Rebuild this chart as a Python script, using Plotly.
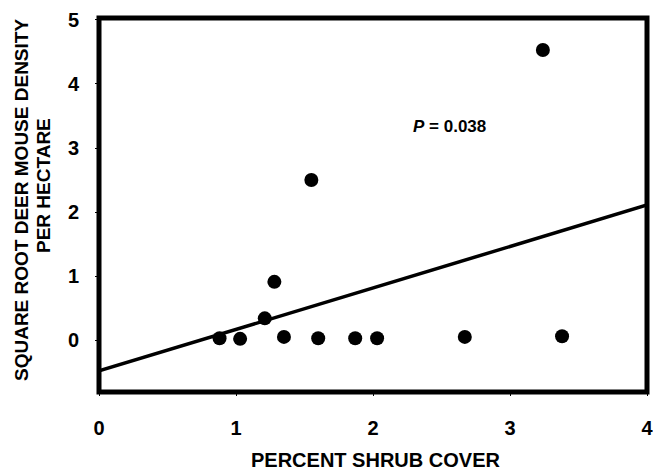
import plotly.graph_objects as go

shrub_cover = [0.88, 1.03, 1.21, 1.28, 1.35, 1.55, 1.60, 1.87, 2.03, 2.67, 3.24, 3.38]
sqrt_density = [0.03, 0.02, 0.34, 0.91, 0.05, 2.50, 0.03, 0.03, 0.03, 0.05, 4.53, 0.06]
fit_x = [0, 4]
fit_y = [-0.48, 2.11]
x_ticks = [0, 1, 2, 3, 4]
y_ticks = [0, 1, 2, 3, 4, 5]

FONT = "Liberation Sans, Arial"
L, R, T, B = 99, 6, 18, 81
PW, PH = 653 - L - R, 473 - T - B

fig = go.Figure()
fig.add_trace(go.Scatter(x=fit_x, y=fit_y, mode="lines",
                         line=dict(color="black", width=3.5), showlegend=False))
fig.add_trace(go.Scatter(x=shrub_cover, y=sqrt_density, mode="markers",
                         marker=dict(color="black", size=14), showlegend=False))

fig.update_layout(
    width=653, height=473,
    margin=dict(l=L, r=R, t=T, b=B, autoexpand=False),
    plot_bgcolor="white", paper_bgcolor="white",
    font=dict(family=FONT, color="black"),
    xaxis=dict(range=[0, 4], tickvals=x_ticks, showgrid=False, zeroline=False, automargin=False,
               showline=False, ticks="outside", ticklen=3, tickwidth=1, tickcolor="black",
               ticklabeloverflow="allow",
               tickfont=dict(size=20, family=FONT, weight="bold"), ticklabelstandoff=15),
    yaxis=dict(range=[-0.81, 5.03], tickvals=y_ticks, showgrid=False, zeroline=False, automargin=False,
               showline=False, ticks="outside", ticklen=3, tickwidth=1, tickcolor="black",
               ticklabeloverflow="allow",
               tickfont=dict(size=20, family=FONT, weight="bold"), ticklabelstandoff=12),
    shapes=[dict(type="rect", xref="paper", yref="paper", x0=0, x1=1, y0=0, y1=1,
                 line=dict(color="black", width=5))],
    annotations=[
        dict(text="PERCENT SHRUB COVER", xref="paper", yref="paper", x=(375 - L) / PW,
             y=-(460 - (473 - B)) / PH, showarrow=False, font=dict(size=20, family=FONT, weight="bold"),
             xanchor="center", yanchor="middle"),
        dict(text="SQUARE ROOT DEER MOUSE DENSITY", xref="paper", yref="paper",
             x=-(L - 22) / PW, y=((473 - B) - 200) / PH, showarrow=False, textangle=-90,
             font=dict(size=19, family=FONT, weight="bold"), xanchor="center", yanchor="middle"),
        dict(text="PER HECTARE", xref="paper", yref="paper",
             x=-(L - 43) / PW, y=((473 - B) - 186) / PH, showarrow=False, textangle=-90,
             font=dict(size=19, family=FONT, weight="bold"), xanchor="center", yanchor="middle"),
        dict(text="<i>P</i> = 0.038", xref="x", yref="y", x=2.56, y=3.33, showarrow=False,
             font=dict(size=17, family=FONT, weight="bold"),
             xanchor="center", yanchor="middle"),
    ],
)

fig.write_html("out.html")
